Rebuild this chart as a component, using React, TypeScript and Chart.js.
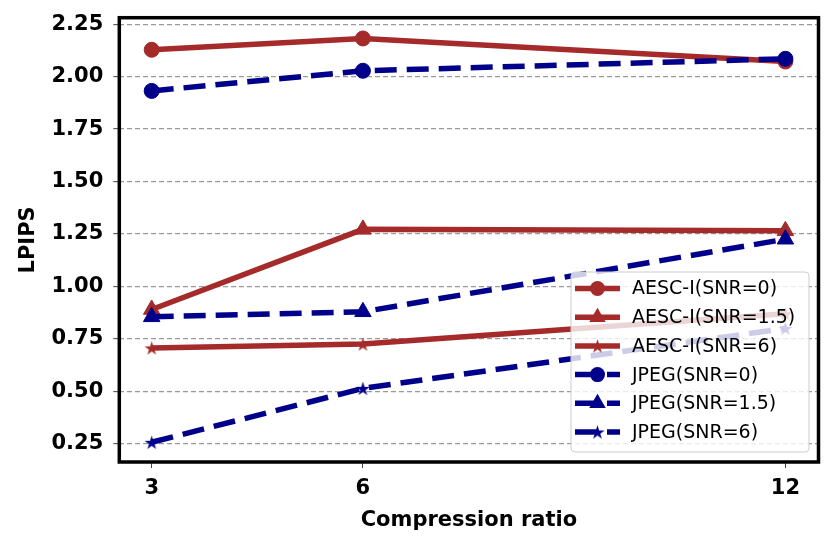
import React, { useEffect, useRef } from 'react'
import { Chart, registerables } from 'chart.js'

Chart.register(...registerables)

// compression ratios on the x axis
const ratios = [3, 6, 12]

// LPIPS values
const aescSnr0 = [2.128, 2.182, 2.072]
const aescSnr15 = [0.89, 1.272, 1.265]
const aescSnr6 = [0.707, 0.725, 0.87]
const jpegSnr0 = [1.932, 2.028, 2.085]
const jpegSnr15 = [0.855, 0.879, 1.225]
const jpegSnr6 = [0.257, 0.514, 0.8]

const seriesLabels = [
  'AESC-I(SNR=0)',
  'AESC-I(SNR=1.5)',
  'AESC-I(SNR=6)',
  'JPEG(SNR=0)',
  'JPEG(SNR=1.5)',
  'JPEG(SNR=6)',
]

const xTicks = [3, 6, 12]
const yTicks = [0.25, 0.5, 0.75, 1.0, 1.25, 1.5, 1.75, 2.0, 2.25]

const RED = '#a52a2a'
const BLUE = '#00008b'
const FONT = "'DejaVu Sans', sans-serif"

function makeStar(color: string, outer: number) {
  const size = Math.ceil(outer * 2 + 2)
  const c = document.createElement('canvas')
  c.width = size
  c.height = size
  const g = c.getContext('2d')!
  const inner = outer * 0.382
  g.beginPath()
  for (let i = 0; i < 10; i++) {
    const r = i % 2 === 0 ? outer : inner
    const a = -Math.PI / 2 + (i * Math.PI) / 5
    const px = size / 2 + r * Math.cos(a)
    const py = size / 2 + r * Math.sin(a) + outer * 0.1
    if (i === 0) g.moveTo(px, py)
    else g.lineTo(px, py)
  }
  g.closePath()
  g.fillStyle = color
  g.fill()
  return c
}

function drawMarker(ctx: CanvasRenderingContext2D, style: any, x: number, y: number, r: number, color: string) {
  ctx.save()
  ctx.fillStyle = color
  if (style === 'circle') {
    ctx.beginPath()
    ctx.arc(x, y, r, 0, Math.PI * 2)
    ctx.fill()
  } else if (style === 'triangle') {
    ctx.beginPath()
    for (let i = 0; i < 3; i++) {
      const a = -Math.PI / 2 + (i * 2 * Math.PI) / 3
      const px = x + r * Math.cos(a)
      const py = y + r * Math.sin(a)
      if (i === 0) ctx.moveTo(px, py)
      else ctx.lineTo(px, py)
    }
    ctx.closePath()
    ctx.fill()
  } else {
    ctx.drawImage(style, x - style.width / 2, y - style.height / 2)
  }
  ctx.restore()
}

const framePlugin = {
  id: 'frameAndLegend',
  afterDatasetsDraw(chart: any) {
    const { ctx, chartArea } = chart
    ctx.save()
    ctx.strokeStyle = '#000'
    ctx.lineWidth = 3.5
    ctx.strokeRect(chartArea.left, chartArea.top, chartArea.right - chartArea.left, chartArea.bottom - chartArea.top)

    // legend
    const bx = 571, by = 272, bw = 238, bh = 180, rad = 4
    ctx.beginPath()
    ctx.moveTo(bx + rad, by)
    ctx.arcTo(bx + bw, by, bx + bw, by + bh, rad)
    ctx.arcTo(bx + bw, by + bh, bx, by + bh, rad)
    ctx.arcTo(bx, by + bh, bx, by, rad)
    ctx.arcTo(bx, by, bx + bw, by, rad)
    ctx.closePath()
    ctx.fillStyle = 'rgba(255,255,255,0.8)'
    ctx.fill()
    ctx.strokeStyle = '#cccccc'
    ctx.lineWidth = 1
    ctx.stroke()

    chart.data.datasets.forEach((ds: any, i: number) => {
      const y = 288.5 + i * 28.7
      ctx.beginPath()
      ctx.setLineDash(ds.borderDash || [])
      ctx.strokeStyle = ds.borderColor
      ctx.lineWidth = ds.borderWidth
      ctx.moveTo(575, y)
      ctx.lineTo(620, y)
      ctx.stroke()
      ctx.setLineDash([])
      drawMarker(ctx, ds.pointStyle, 597.5, y, ds.pointRadius, ds.borderColor)
      ctx.fillStyle = '#000'
      ctx.font = `19px ${FONT}`
      ctx.textBaseline = 'middle'
      ctx.textAlign = 'left'
      ctx.fillText(ds.label, 632, y + 1)
    })
    ctx.restore()
  },
}

export default function App() {
  const canvasRef = useRef<HTMLCanvasElement>(null)
  const chartRef = useRef<Chart | null>(null)

  useEffect(() => {
    if (chartRef.current) { chartRef.current.destroy(); chartRef.current = null }
    if (!canvasRef.current) return
    const ctx = canvasRef.current.getContext('2d')
    if (!ctx) return

    const redStar = makeStar(RED, 7.5)
    const blueStar = makeStar(BLUE, 7.5)
    const series = [aescSnr0, aescSnr15, aescSnr6, jpegSnr0, jpegSnr15, jpegSnr6]
    const styles: any[] = ['circle', 'triangle', redStar, 'circle', 'triangle', blueStar]
    const radii = [7.5, 9.5, 7, 7.5, 9.5, 7]

    const datasets = series.map((vals, i) => {
      const isJpeg = i >= 3
      const color = isJpeg ? BLUE : RED
      return {
        label: seriesLabels[i],
        data: ratios.map((x, j) => ({ x, y: vals[j] })),
        borderColor: color,
        backgroundColor: color,
        pointBackgroundColor: color,
        pointBorderColor: color,
        pointBorderWidth: 1,
        borderWidth: 5.5,
        borderDash: isJpeg ? [22, 10] : [],
        pointStyle: styles[i],
        pointRadius: radii[i],
        tension: 0,
        order: series.length - i,
      }
    })

    chartRef.current = new Chart(ctx, {
      type: 'line',
      data: { datasets },
      options: {
        animation: false,
        responsive: false,
        layout: { padding: { left: 0, top: 17.7, right: 11.5, bottom: 0 } },
        plugins: { legend: { display: false }, tooltip: { enabled: false } },
        scales: {
          x: {
            type: 'linear',
            min: 2.54,
            max: 12.47,
            afterBuildTicks: (s: any) => { s.ticks = xTicks.map((v) => ({ value: v })) },
            afterFit: (s: any) => { s.height = 87 },
            ticks: { color: '#000', font: { family: FONT, size: 21, weight: 'bold' }, padding: 8, callback: (v: any) => String(v) },
            grid: { drawOnChartArea: false, drawTicks: true, tickLength: 6, tickColor: '#444', tickWidth: 1 },
            border: { display: false },
            title: { display: true, text: 'Compression ratio', color: '#000', font: { family: FONT, size: 21, weight: 'bold' }, padding: { top: 0, bottom: 16 } },
          },
          y: {
            type: 'linear',
            min: 0.163,
            max: 2.281,
            afterBuildTicks: (s: any) => { s.ticks = yTicks.map((v) => ({ value: v })) },
            afterFit: (s: any) => { s.width = 119.3 },
            ticks: { color: '#000', font: { family: FONT, size: 21, weight: 'bold', lineHeight: 0.5 }, padding: 10, callback: (v: any) => Number(v).toFixed(2) },
            grid: { color: '#9a9a9a', lineWidth: 1.3, drawTicks: true, tickLength: 6, tickColor: '#444', tickWidth: 1, tickBorderDash: [] },
            border: { display: false, dash: [5, 3] },
            title: { display: true, text: 'LPIPS', color: '#000', font: { family: FONT, size: 21, weight: 'bold' }, padding: { top: 16, bottom: 0 } },
          },
        },
      },
      plugins: [framePlugin],
    } as any)

    return () => { if (chartRef.current) chartRef.current.destroy() }
  }, [])

  return (
    <div style={{ position: 'fixed', left: 0, top: 0, width: 830, height: 549, background: '#fff' }}>
      <canvas ref={canvasRef} width={830} height={549} />
    </div>
  )
}
